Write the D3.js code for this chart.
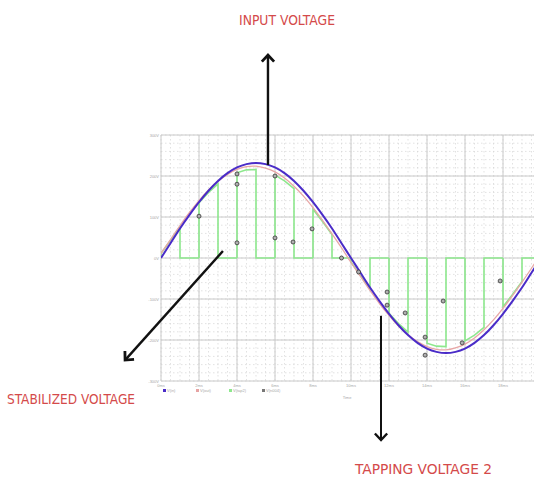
<!DOCTYPE html>
<html>
<head>
<meta charset="utf-8">
<script src="https://cdn.jsdelivr.net/npm/d3@7"></script>
<style>
  body { margin: 0; background: #fff; }
  svg { display: block; }
  .note { font-family: "Liberation Sans Narrow", "DejaVu Sans Condensed", "Liberation Sans", sans-serif; fill: #d44a4a; font-size: 14px; }
  .tiny { font-family: "Liberation Sans", sans-serif; fill: #a8a8a8; font-size: 4px; }
</style>
</head>
<body>
<script>
// time axis in ms, sampled every 0.5 ms
var timeMs = d3.range(0, 20.01, 0.5);

// input voltage (blue)
var inputV = [0, 36, 72, 105, 136, 164, 188, 207, 221, 229, 232, 229, 221, 207, 188, 164, 136, 105, 72, 36,
  0, -36, -72, -105, -136, -164, -188, -207, -221, -229, -232, -229, -221, -207, -188, -164, -136, -105, -72, -36, 0];

// stabilized voltage (thin pink)
var stabV = [11, 45, 79, 111, 140, 166, 187, 204, 216, 223, 224, 219, 210, 195, 175, 151, 123, 92, 59, 25,
  -11, -45, -79, -111, -140, -166, -187, -204, -216, -223, -224, -219, -210, -195, -175, -151, -123, -92, -59, -25, 11];

// tapping voltage (green), chopped every other ms
var tapV = [11, 43, 76, 107, 135, 160, 181, 197, 208, 215, 216, 211, 202, 188, 169, 145, 119, 89, 57, 24,
  -10, -43, -76, -107, -135, -160, -181, -197, -208, -215, -216, -211, -202, -188, -169, -145, -119, -89, -57, -24, 10];
var tapOnStart = [0, 2, 4, 6, 8, 10, 12, 14, 16, 18];

// sample markers (circles)
var markT = [2.0, 4.0, 4.0, 4.0, 6.0, 6.0, 6.95, 7.95, 9.5, 10.4, 11.9, 11.9, 12.85, 13.9, 13.9, 14.85, 15.85, 17.85];
var markV = [102, 205, 180, 37, 200, 49, 39, 71, 0, -34, -83, -115, -134, -193, -237, -105, -207, -56];

var yTicks = [300, 200, 100, 0, -100, -200, -300];
var yTickLabels = ["300V", "200V", "100V", "0V", "-100V", "-200V", "-300V"];
var xTicks = [0, 2, 4, 6, 8, 10, 12, 14, 16, 18];
var xTickLabels = ["0ms", "2ms", "4ms", "6ms", "8ms", "10ms", "12ms", "14ms", "16ms", "18ms"];
var legendNames = ["V(in)", "V(out)", "V(tap2)", "V(n004)"];
var legendColors = ["#4a2cc8", "#e6a3a3", "#8de88d", "#777"];

var W = 534, H = 477;
var svg = d3.select("body").append("svg").attr("width", W).attr("height", H);

var x = d3.scaleLinear().domain([0, 20]).range([161, 541]);
var y = d3.scaleLinear().domain([-300, 300]).range([381, 135]);

svg.append("clipPath").attr("id", "plot")
  .append("rect").attr("x", 161).attr("y", 135).attr("width", W - 161).attr("height", 246);

// grid
var grid = svg.append("g");
grid.selectAll(".vminor").data(d3.range(0, 20.01, 0.5)).enter().append("line")
  .attr("x1", function(d) { return x(d); }).attr("x2", function(d) { return x(d); })
  .attr("y1", y(300)).attr("y2", y(-300))
  .attr("stroke", "#d6d6d6").attr("stroke-width", 0.7).attr("stroke-dasharray", "1.5,2.5");
grid.selectAll(".hminor").data(d3.range(-300, 300.1, 20)).enter().append("line")
  .attr("x1", x(0)).attr("x2", W)
  .attr("y1", function(d) { return y(d); }).attr("y2", function(d) { return y(d); })
  .attr("stroke", "#d6d6d6").attr("stroke-width", 0.7).attr("stroke-dasharray", "1.5,2.5");
grid.selectAll(".vmajor").data(xTicks.concat([20])).enter().append("line")
  .attr("x1", function(d) { return x(d); }).attr("x2", function(d) { return x(d); })
  .attr("y1", y(300)).attr("y2", y(-300))
  .attr("stroke", "#cacaca").attr("stroke-width", 1);
grid.selectAll(".hmajor").data(yTicks).enter().append("line")
  .attr("x1", x(0)).attr("x2", W)
  .attr("y1", function(d) { return y(d); }).attr("y2", function(d) { return y(d); })
  .attr("stroke", "#cacaca").attr("stroke-width", 1);

// tick labels
svg.selectAll(".ylab").data(yTicks).enter().append("text")
  .attr("class", "tiny").attr("x", x(0) - 2).attr("y", function(d) { return y(d) + 1.5; })
  .attr("text-anchor", "end").text(function(d, i) { return yTickLabels[i]; });
svg.selectAll(".xlab").data(xTicks).enter().append("text")
  .attr("class", "tiny").attr("x", function(d) { return x(d); }).attr("y", y(-300) + 6)
  .attr("text-anchor", "middle").text(function(d, i) { return xTickLabels[i]; });
svg.append("text").attr("class", "tiny").attr("x", 347).attr("y", 399)
  .attr("text-anchor", "middle").text("Time");

// legend row under the axis
var leg = svg.selectAll(".leg").data(legendNames).enter().append("g")
  .attr("transform", function(d, i) { return "translate(" + (163 + i * 33) + ",392)"; });
leg.append("rect").attr("x", 0).attr("y", -3).attr("width", 3).attr("height", 3)
  .attr("fill", function(d, i) { return legendColors[i]; });
leg.append("text").attr("class", "tiny").attr("x", 4).attr("y", 0).text(function(d) { return d; });

var plot = svg.append("g").attr("clip-path", "url(#plot)");

// tapping voltage: on for 1 ms, zero for 1 ms
tapOnStart.forEach(function(a) {
  var pts = [[a, 0]];
  timeMs.forEach(function(t, i) {
    if (t >= a - 1e-9 && t <= a + 1 + 1e-9) pts.push([t, tapV[i]]);
  });
  pts.push([a + 1, 0], [a + 2, 0]);
  plot.append("path")
    .attr("d", d3.line().x(function(d) { return x(d[0]); }).y(function(d) { return y(d[1]); })(pts))
    .attr("fill", "none").attr("stroke", "#8de88d").attr("stroke-width", 1.6);
});

var line = d3.line().curve(d3.curveCatmullRom)
  .x(function(d, i) { return x(timeMs[i]); })
  .y(function(d) { return y(d); });

plot.append("path").attr("d", line(stabV))
  .attr("fill", "none").attr("stroke", "#e8a6a6").attr("stroke-width", 1.3);
plot.append("path").attr("d", line(inputV))
  .attr("fill", "none").attr("stroke", "#4a2cc8").attr("stroke-width", 2);

plot.selectAll(".mk").data(markT).enter().append("circle")
  .attr("cx", function(d) { return x(d); })
  .attr("cy", function(d, i) { return y(markV[i]); })
  .attr("r", 2).attr("fill", "#b0b0b0").attr("stroke", "#333").attr("stroke-width", 0.8);

// annotation arrows (ends in data units)
function arrow(t1, v1, t2, v2, w) {
  var x1 = x(t1), y1 = y(v1), x2 = x(t2), y2 = y(v2);
  var ang = Math.atan2(y1 - y2, x1 - x2), len = 9, spread = 0.75;
  svg.append("line").attr("x1", x1).attr("y1", y1).attr("x2", x2).attr("y2", y2)
    .attr("stroke", "#111").attr("stroke-width", w);
  var p = [[x2 + len * Math.cos(ang + spread), y2 + len * Math.sin(ang + spread)], [x2, y2],
           [x2 + len * Math.cos(ang - spread), y2 + len * Math.sin(ang - spread)]];
  svg.append("path").attr("d", d3.line()(p))
    .attr("fill", "none").attr("stroke", "#111").attr("stroke-width", w + 0.4)
    .attr("stroke-linejoin", "miter");
}
arrow(5.63, 227, 5.63, 495, 2.4);
arrow(3.26, 17, -1.89, -249, 2.4);
arrow(11.58, -141, 11.58, -444, 2);

svg.append("text").attr("class", "note").attr("x", 239).attr("y", 25)
  .attr("textLength", 96).attr("lengthAdjust", "spacingAndGlyphs").text("INPUT VOLTAGE");
svg.append("text").attr("class", "note").attr("x", 7).attr("y", 404)
  .attr("textLength", 128).attr("lengthAdjust", "spacingAndGlyphs").text("STABILIZED VOLTAGE");
svg.append("text").attr("class", "note").attr("x", 355).attr("y", 474)
  .attr("textLength", 137).attr("lengthAdjust", "spacingAndGlyphs").text("TAPPING VOLTAGE 2");
</script>
</body>
</html>
